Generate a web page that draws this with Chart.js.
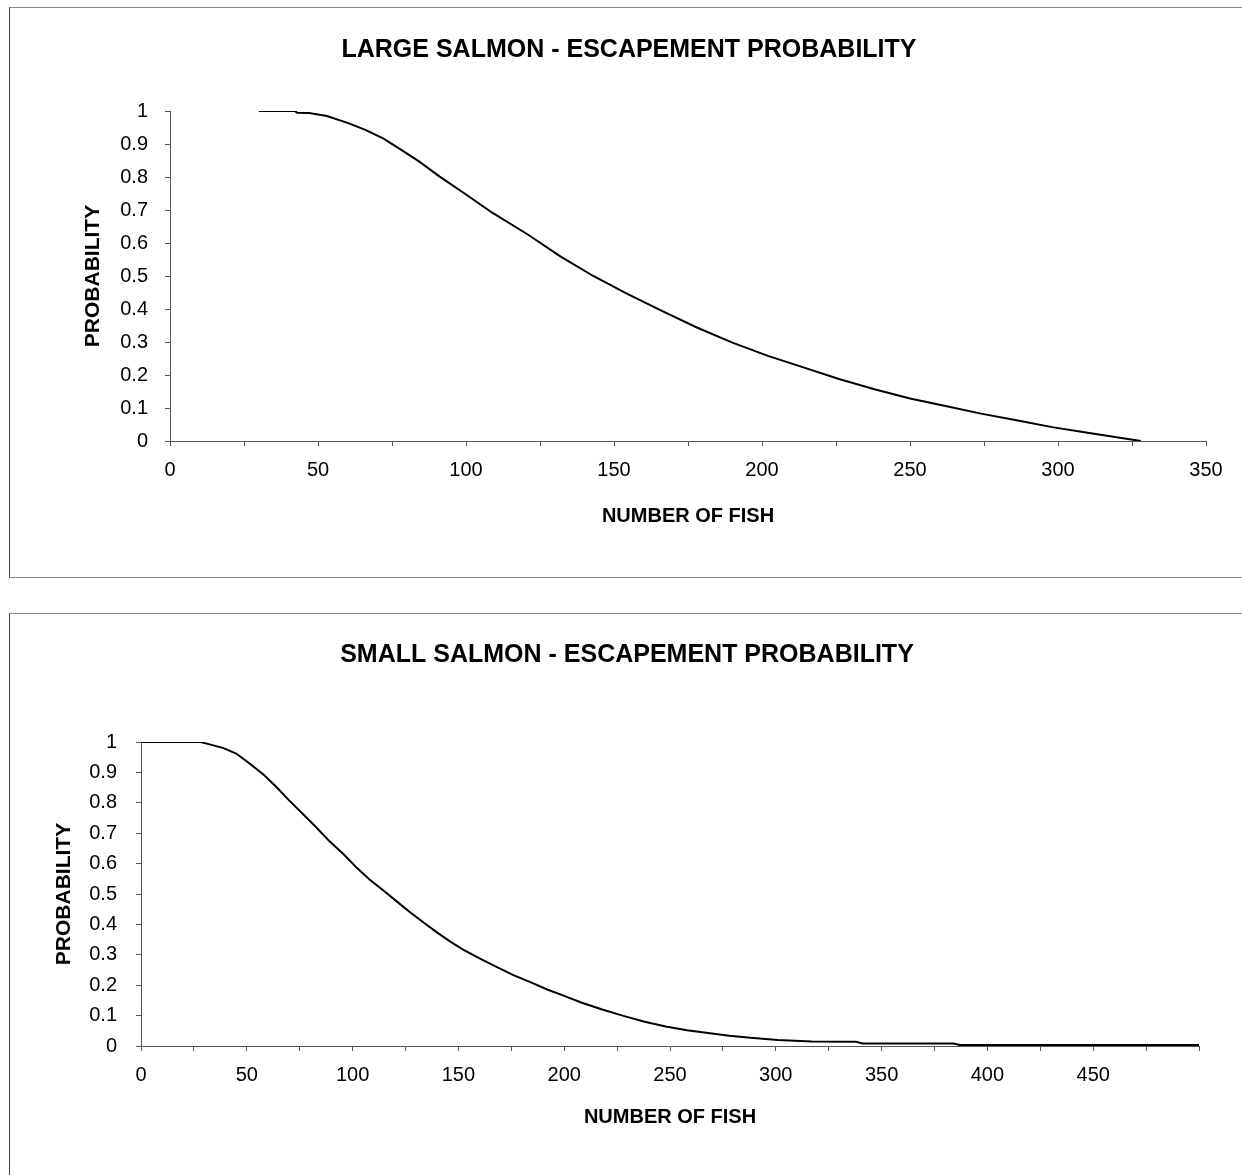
<!DOCTYPE html>
<html>
<head>
<meta charset="utf-8">
<script src="https://cdn.jsdelivr.net/npm/chart.js@4.4.1/dist/chart.umd.min.js"></script>
<style>
  html, body { margin: 0; padding: 0; background: #fff; }
  body { width: 1242px; height: 1175px; position: relative; overflow: hidden; }
  .box { position: absolute; border: 1px solid #888; border-left-color: #444; box-sizing: border-box; }
  canvas { position: absolute; left: 0; }
</style>
</head>
<body>
<div class="box" style="left:9px; top:7px; width:1250px; height:571px;"></div>
<div class="box" style="left:9px; top:613px; width:1250px; height:600px;"></div>
<canvas id="c1" width="1242" height="590" style="top:0px; width:1242px; height:590px;"></canvas>
<canvas id="c2" width="1242" height="575" style="top:600px; width:1242px; height:575px;"></canvas>
<script>
// ---- Data ----
const largeTitle = 'LARGE SALMON - ESCAPEMENT PROBABILITY';
const smallTitle = 'SMALL SALMON - ESCAPEMENT PROBABILITY';
const xTitle = 'NUMBER OF FISH';
const yTitle = 'PROBABILITY';

const largeFish = [30, 42, 43, 47, 53, 60, 66, 72, 78, 84, 91, 100, 109, 121, 132, 143, 154, 166, 178, 190, 202, 214, 226, 238, 250, 262, 274, 286, 298, 310, 322, 328];
const largeProb = [1, 1, 0.995, 0.994, 0.985, 0.964, 0.943, 0.917, 0.883, 0.848, 0.802, 0.747, 0.691, 0.625, 0.559, 0.500, 0.448, 0.395, 0.344, 0.298, 0.258, 0.223, 0.188, 0.157, 0.129, 0.106, 0.083, 0.063, 0.042, 0.025, 0.008, 0.0];

const smallFish = [0, 28, 32, 39, 45, 51, 58, 64, 70, 77, 83, 89, 96, 102, 108, 115, 121, 127, 134, 140, 146, 152, 160, 168, 176, 184, 192, 200, 208, 218, 228, 238, 248, 258, 268, 278, 288, 301, 317, 338, 341, 384, 387, 500];
const smallProb = [1, 1, 0.993, 0.980, 0.962, 0.931, 0.892, 0.852, 0.808, 0.760, 0.718, 0.674, 0.629, 0.586, 0.548, 0.509, 0.475, 0.441, 0.404, 0.373, 0.344, 0.318, 0.288, 0.260, 0.233, 0.210, 0.186, 0.165, 0.143, 0.120, 0.099, 0.080, 0.064, 0.052, 0.043, 0.034, 0.027, 0.020, 0.015, 0.014, 0.008, 0.008, 0.003, 0.003];

const largeXMax = 350;
const smallXMax = 500;
const smallXLabelMax = 450;

// ---- Chart builder ----
const FONT = "'Liberation Sans', Arial, Helvetica, sans-serif";
Chart.defaults.font.family = FONT;
Chart.defaults.color = '#000';

function makeChart(id, title, xs, ys, cfg) {
  const pts = xs.map((x, i) => ({ x: x, y: ys[i] }));
  return new Chart(document.getElementById(id), {
    type: 'line',
    data: { datasets: [{ data: pts, borderColor: '#000', borderWidth: 2, pointRadius: 0, tension: 0, fill: false }] },
    options: {
      responsive: false,
      animation: false,
      layout: { padding: { left: cfg.padLeft, right: cfg.padRight, top: 0, bottom: 0 } },
      plugins: {
        legend: { display: false },
        tooltip: { enabled: false },
        title: {
          display: true, text: title, color: '#000',
          font: { size: 25, weight: 'bold', family: FONT, lineHeight: 1.2 },
          padding: { top: cfg.titleTop, bottom: cfg.titleBottom }
        }
      },
      scales: {
        x: {
          type: 'linear', min: 0, max: cfg.xMax,
          border: { display: true, color: '#555', width: 1 },
          grid: { display: true, drawOnChartArea: false, drawTicks: true, tickLength: 5, color: '#555' },
          ticks: {
            stepSize: 25, padding: 12, color: '#000', maxRotation: 0, autoSkip: false,
            font: { size: 20, family: FONT, lineHeight: 1.2 },
            callback: (v) => (v % 50 === 0 && v <= cfg.xLabelMax) ? String(v) : ''
          },
          title: {
            display: true, text: xTitle, color: '#000',
            font: { size: 20, weight: 'bold', family: FONT, lineHeight: 1.2 },
            padding: { top: 0, bottom: cfg.xTitleBottom }
          },
          afterFit: (s) => { s.height = cfg.xHeight; }
        },
        y: {
          type: 'linear', min: 0, max: 1,
          border: { display: true, color: '#555', width: 1 },
          grid: { display: true, drawOnChartArea: false, drawTicks: true, tickLength: 5, color: '#555' },
          ticks: {
            stepSize: 0.1, padding: cfg.yTickPad, color: '#000',
            font: { size: 20, family: FONT, lineHeight: 1.2 },
            callback: (v) => String(Math.round(v * 10) / 10)
          },
          title: {
            display: true, text: yTitle, color: '#000',
            font: { size: 21, weight: 'bold', family: FONT, lineHeight: 1.2 },
            padding: { top: cfg.yTitlePad, bottom: 0 }
          },
          afterFit: (s) => { s.width = cfg.yWidth; }
        }
      }
    }
  });
}

makeChart('c1', largeTitle, largeFish, largeProb, {
  padLeft: 52, padRight: 36, titleTop: 35, titleBottom: 46,
  xMax: largeXMax, xLabelMax: largeXMax, xHeight: 149, xTitleBottom: 62,
  yWidth: 118, yTitlePad: 28.4, yTickPad: 17
});

makeChart('c2', smallTitle, smallFish, smallProb, {
  padLeft: 55, padRight: 43, titleTop: 40, titleBottom: 72,
  xMax: smallXMax, xLabelMax: smallXLabelMax, xHeight: 129, xTitleBottom: 46,
  yWidth: 86, yTitlePad: -3.6, yTickPad: 19
});
</script>
</body>
</html>
